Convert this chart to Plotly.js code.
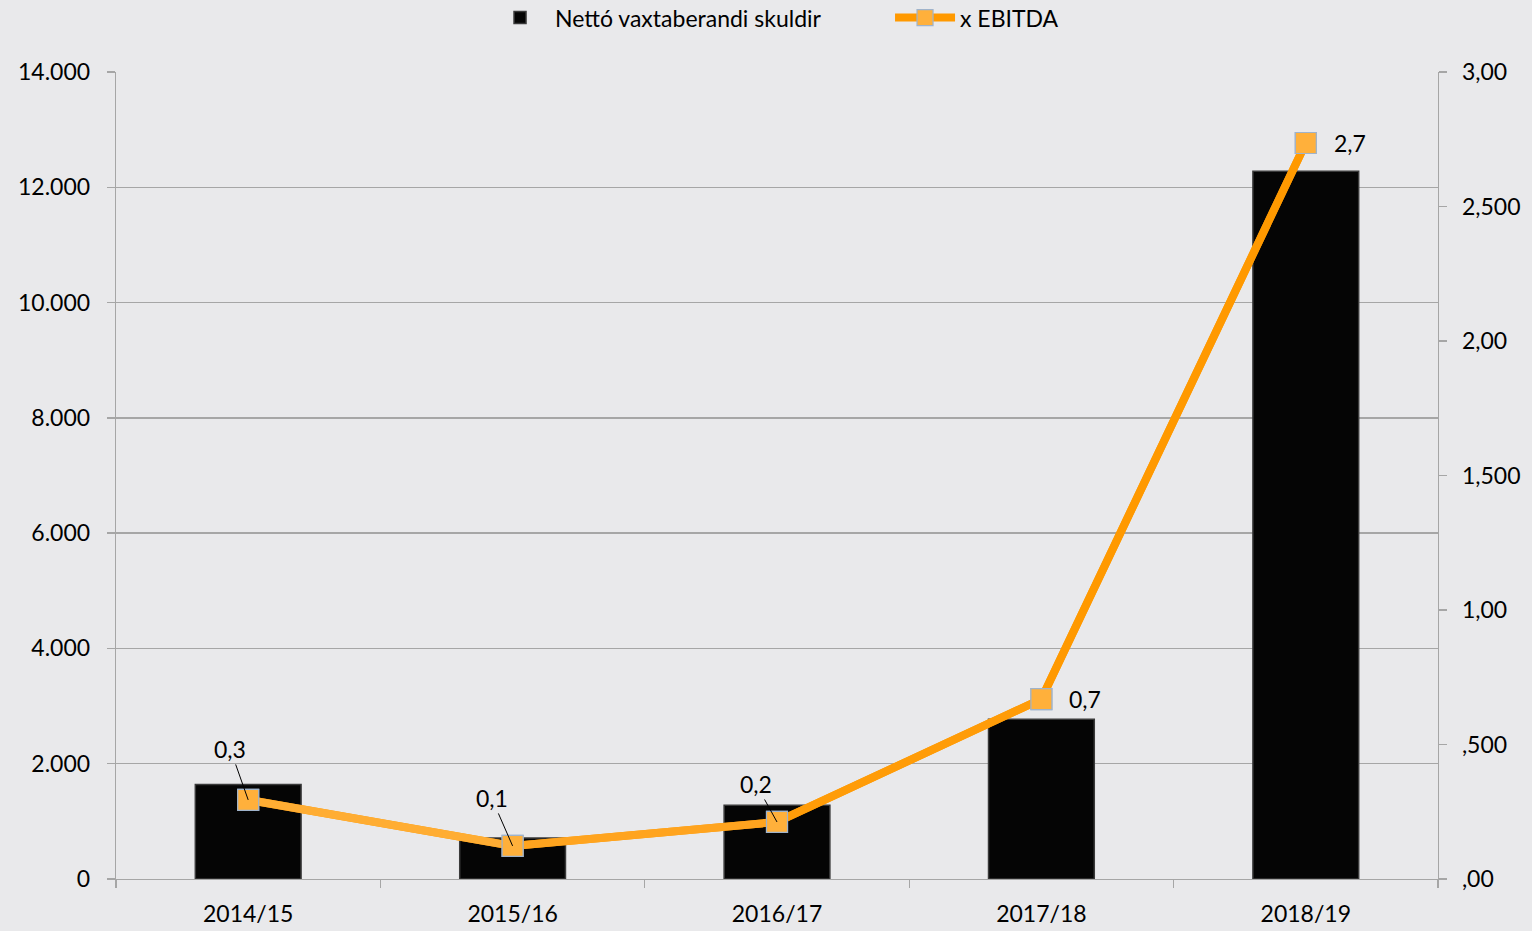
<!DOCTYPE html>
<html><head><meta charset="utf-8">
<script src="https://cdn.plot.ly/plotly-3.0.1.min.js"></script>
<style>html,body{margin:0;padding:0;background:#E9E9EB;}#chart{width:1532px;height:931px;}</style>
</head><body><div id="chart"></div>
<script>
const categories = ["2014/15","2015/16","2016/17","2017/18","2018/19"];
const debtValues = [1640, 710, 1280, 2770, 12280];
const ebitdaMultiple = [0.294, 0.123, 0.212, 0.669, 2.736];
const leftTickVals = [0,2000,4000,6000,8000,10000,12000,14000];
const leftTickText = ["0","2.000","4.000","6.000","8.000","10.000","12.000","14.000"];
const rightTickVals = [0,0.5,1,1.5,2,2.5,3];
const rightTickText = [",00",",500","1,00","1,500","2,00","2,500","3,00"];
const seriesNames = ["Nettó vaxtaberandi skuldir","x EBITDA"];
const segmentColors = ["#FFAD33","#FFA41F","#FF9C08","#FF9900"];

const FONT = "Lato, 'Open Sans', sans-serif";
const FS = 23;
const traces = [];
traces.push({
  type:"bar", x:categories, y:debtValues, name:seriesNames[0],
  marker:{color:"#050505", line:{color:"#3a3a3a", width:1.5}},
  yaxis:"y", hoverinfo:"skip"
});
traces.push({
  type:"scatter", mode:"lines+markers", x:categories, y:ebitdaMultiple, name:seriesNames[1],
  yaxis:"y2", line:{color:"#FF9900", width:8},
  marker:{symbol:"square", size:21, color:"#FFB03B", line:{color:"#9FB3CB", width:1.2}},
  hoverinfo:"skip"
});
for (let i=0;i<categories.length-1;i++){
  traces.push({
    type:"scatter", mode:"lines", x:categories.slice(i,i+2), y:ebitdaMultiple.slice(i,i+2),
    yaxis:"y2", showlegend:false, line:{color:segmentColors[i], width:8}, hoverinfo:"skip"
  });
}
traces.push({
  type:"scatter", mode:"markers", x:categories, y:ebitdaMultiple, yaxis:"y2", showlegend:false,
  marker:{symbol:"square", size:21, color:"#FFB03B", line:{color:"#9FB3CB", width:1.2}}, hoverinfo:"skip"
});

const fmt = v => v.toFixed(1).replace(".", ",");
const labelOffsets = [[-18,-51,true],[-21,-48,true],[-21,-38,true],[44,0,false],[44,0,false]];
const annotations = categories.map((c,i)=>{
  const o = labelOffsets[i];
  const a = {x:c, y:ebitdaMultiple[i], xref:"x", yref:"y2", text:fmt(ebitdaMultiple[i]),
    font:{family:FONT, size:FS, color:"#000"}};
  if (o[2]) { Object.assign(a,{showarrow:true, arrowhead:0, arrowwidth:1, arrowcolor:"#000", ax:o[0], ay:o[1], standoff:0}); }
  else { Object.assign(a,{showarrow:false, xshift:o[0], yshift:o[1]}); }
  return a;
});

const layout = {
  width:1532, height:931,
  paper_bgcolor:"#E9E9EB", plot_bgcolor:"#E9E9EB",
  margin:{l:116, r:94, t:72, b:52, pad:0, autoexpand:false},
  font:{family:FONT, size:FS, color:"#000"},
  bargap:0.6,
  showlegend:true,
  legend:{orientation:"h", x:0.5855, xanchor:"center", y:1.094, yanchor:"top", font:{family:FONT,size:FS}, bgcolor:"rgba(0,0,0,0)", itemwidth:60, entrywidth:330, traceorder:"normal"},
  xaxis:{type:"category", showgrid:false, showline:true, linecolor:"#A6A6A6", linewidth:1.3,
    ticks:"outside", tickson:"boundaries", ticklen:8, tickcolor:"#A6A6A6", tickwidth:1.3,
    tickfont:{family:FONT,size:FS}, ticklabelstandoff:14, zeroline:false, fixedrange:true},
  yaxis:{range:[0,14000], tickvals:leftTickVals, ticktext:leftTickText, showgrid:true, gridcolor:"#A6A6A6", gridwidth:1.3,
    showline:true, linecolor:"#A6A6A6", linewidth:1.3, ticks:"outside", ticklen:8, tickcolor:"#A6A6A6", tickwidth:1.3,
    zeroline:false, tickfont:{family:FONT,size:FS}, ticklabelstandoff:12},
  yaxis2:{range:[0,3], overlaying:"y", side:"right", tickvals:rightTickVals, ticktext:rightTickText, showgrid:false,
    showline:true, linecolor:"#A6A6A6", linewidth:1.3, ticks:"outside", ticklen:8, tickcolor:"#A6A6A6", tickwidth:1.3,
    zeroline:false, tickfont:{family:FONT,size:FS}, ticklabelstandoff:10},
  annotations:annotations
};
Plotly.newPlot("chart", traces, layout, {staticPlot:true, displayModeBar:false});
</script></body></html>
